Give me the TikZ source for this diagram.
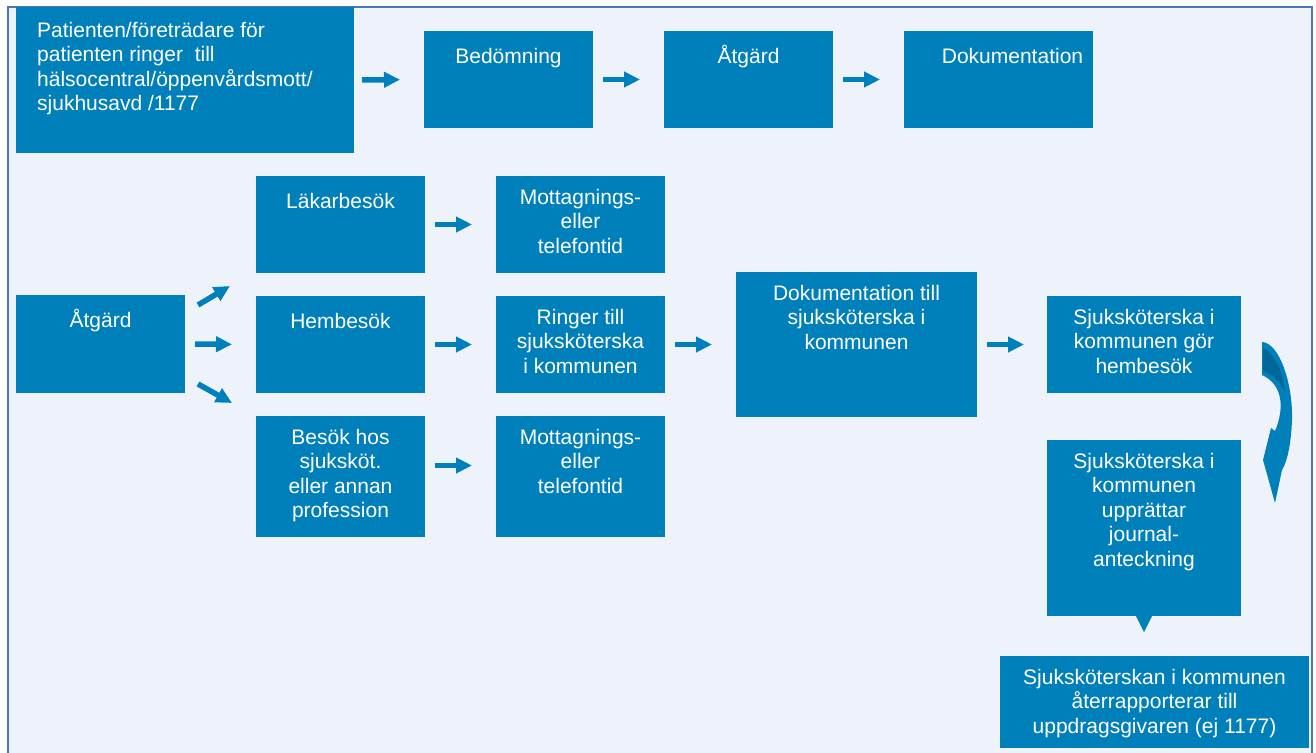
\documentclass[tikz,border=0pt]{standalone}
\usepackage{fontspec}
\setmainfont{Liberation Sans}
\usetikzlibrary{arrows.meta,calc}
\definecolor{boxc}{RGB}{0,128,186}
\definecolor{darkc}{RGB}{0,104,152}
\definecolor{bgc}{RGB}{238,243,251}
\definecolor{framec}{RGB}{74,120,178}
\tikzset{
  box/.style={fill=boxc, draw=none, inner sep=0pt, outer sep=0pt, anchor=north west},
  txt/.style={text=white, inner sep=0pt, align=center, font=\fontsize{21}{24.5}\selectfont,
    execute at begin node={\rule{0pt}{19pt}}},
  arr/.style={draw=boxc, line width=5.5pt, -{Triangle[width=15pt,length=16pt]}},
}
\newcommand\mybox[6]{%
  \node[box, minimum width={(#4-#2)*1pt}, minimum height={(#5-#3)*1pt}] (#1) at (#2,#3) {};
  \node[txt, anchor=north] (#1-t) at ([yshift=-13pt]#1.north) {#6};}
\begin{document}
\begin{tikzpicture}[x=1pt,y=-1pt]
\useasboundingbox (0,0) rectangle (1316,752);
\draw[framec, line width=2pt, fill=bgc] (8,7) rectangle (1312,780);
% top row
\node[box, minimum width=338pt, minimum height=146pt] (pat) at (16,7) {};
\node[txt, align=left, anchor=north west] (pat-t) at (37,22) {Patienten/företrädare för\\patienten ringer\ \ till\\hälsocentral/öppenvårdsmott/\\sjukhusavd /1177};
\mybox{bed}{424}{31}{593}{128}{Bedömning}
\mybox{atga}{664}{31}{833}{128}{Åtgärd}
\node[box, minimum width=189pt, minimum height=97pt] (doka) at (904,31) {};
\node[txt, anchor=north] (doka-t) at ([xshift=14pt,yshift=-13pt]doka.north) {Dokumentation};
% second part
\mybox{atgb}{16}{295}{185}{393}{Åtgärd}
\mybox{lak}{256}{176}{425}{273}{Läkarbesök}
\mybox{mota}{496}{176}{665}{273}{Mottagnings-\\eller\\telefontid}
\mybox{hem}{256}{296}{425}{393}{Hembesök}
\mybox{ring}{496}{296}{665}{393}{Ringer till\\sjuksköterska\\i kommunen}
\mybox{bes}{256}{416}{425}{537}{Besök hos\\sjuksköt.\\eller annan\\profession}
\mybox{motb}{496}{416}{665}{537}{Mottagnings-\\eller\\telefontid}
\mybox{dokb}{736}{272}{977}{417}{Dokumentation till\\sjuksköterska i\\kommunen}
\mybox{gor}{1047}{296}{1241}{393}{Sjuksköterska i\\kommunen gör\\hembesök}
\mybox{jour}{1047}{440}{1241}{616}{Sjuksköterska i\\kommunen\\upprättar\\journal-\\anteckning}
\mybox{ater}{1000}{656}{1309}{748}{Sjuksköterskan i kommunen\\återrapporterar till\\uppdragsgivaren (ej 1177)}
% arrows
\draw[arr, shorten <=8pt, shorten >=24pt] (pat.east) -- (bed.west);
\draw[arr, shorten <=10pt, shorten >=24pt] (bed.east) -- (atga.west);
\draw[arr, shorten <=10pt, shorten >=24pt] (atga.east) -- (doka.west);
\draw[arr, shorten <=10pt, shorten >=24pt] (lak.east) -- (mota.west);
\draw[arr, shorten <=10pt, shorten >=24pt] (hem.east) -- (ring.west);
\draw[arr, shorten <=10pt, shorten >=24pt] ([yshift=11pt]bes.east) -- ([yshift=11pt]motb.west);
\draw[arr, shorten <=10pt, shorten >=24pt] (ring.east) -- (dokb.west);
\draw[arr, shorten <=10pt, shorten >=23pt] (dokb.east) -- (gor.west);
\draw[arr, shorten <=10pt, shorten >=24pt] (atgb.east) -- (hem.west);
\draw[arr] ($(atgb.east)+(13,-39)$) -- ($(lak.south west)+(-26,13)$);
\draw[arr] ($(atgb.east)+(13,40)$) -- ($(bes.north west)+(-24,-13)$);
% curved arrow gor -> jour
\fill[boxc] (1262,342) .. controls (1280,343) and (1293,385) .. (1292,420)
  .. controls (1291,445) and (1287,462) .. (1282,470) -- (1275,503) -- (1263,460)
  -- (1271,428) -- (1275,431) .. controls (1284,410) and (1284,385) .. (1262,375) -- cycle;
\fill[darkc] (1263,348) .. controls (1274,352) and (1283,372) .. (1285,392)
  .. controls (1280,382) and (1272,374) .. (1263,371) -- cycle;
% small arrow jour -> ater
\draw[draw=boxc, line width=0.1pt, -{Triangle[width=16pt,length=16pt]}] (jour.south) -- ++(0,16);
\end{tikzpicture}
\end{document}
